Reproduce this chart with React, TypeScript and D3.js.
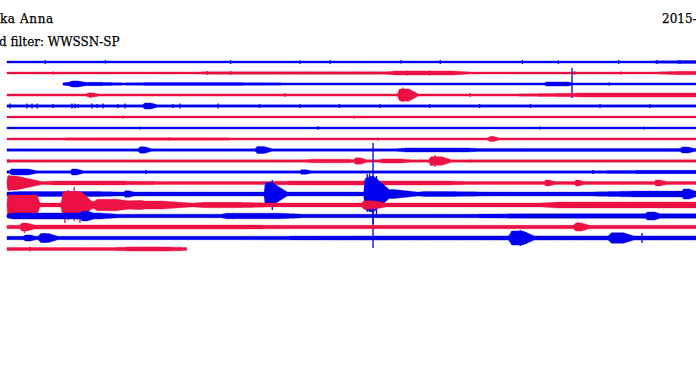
import React, { useEffect } from "react";
import * as d3 from "d3";

const W = 696;
const H = 392;

// ---- text ----
const titleLeft = "ka Anna";
const titleDate = "2015-";
const filterLabel = "d filter: WWSSN-SP";

// ---- helicorder rows (minutes within each line, amplitude in arbitrary counts) ----
const traceColors = ["#0000ee", "#ee1144"];
const rowStart = [0, 0, 4.83, 0, 0, 0, 0, 0, 0, 0, 0, 0, 0, 0, 0, 0, 0, 0];
const rowEnd = [60, 60, 60, 60, 60, 60, 60, 60, 60, 60, 60, 60, 60, 60, 60, 60, 60, 15.54];
const rowBase = [1.0, 1.0, 1.1, 1.1, 1.2, 0.9, 0.9, 1.0, 1.2, 1.15, 1.2, 1.5, 1.9, 1.9, 1.8, 1.7, 1.7, 1.5];

// events: [onset, reachPeak, peakEnd, end, amplitude]
const rowEvents: number[][][] = [
  [[55, 58, 60, 60, 0.4]],
  [[32.5, 33.5, 38.5, 40, 1.0], [16, 18, 32, 33, 0.3], [56, 58, 60, 60, 0.7]],
  [[4.83, 5.2, 8, 10, 0.6], [5.3, 5.7, 6.1, 6.8, 1.4], [10, 12, 20, 24, 0.3], [46.4, 46.6, 48.4, 48.8, 1.0]],
  [[6.8, 7.1, 7.4, 7.9, 1.0], [33.7, 33.9, 34.7, 35.5, 5], [44, 50, 60, 60, 0.9]],
  [[11.7, 11.9, 12.4, 13.0, 1.8]],
  [],
  [],
  [[41.5, 41.7, 42.0, 42.5, 1.6], [3, 8, 18, 20, 0.3]],
  [[11.3, 11.5, 11.9, 12.5, 2.0], [21.4, 21.6, 22.2, 22.9, 2.3], [33.5, 34.5, 39, 40.5, 0.8], [39, 40, 60, 60, 0.4], [58.1, 58.3, 58.8, 59.3, 1.4]],
  [[25.5, 26.5, 29.5, 30, 0.7], [29.9, 30.1, 30.5, 31.1, 2.0], [32, 32.5, 34, 35, 0.9], [36.4, 36.6, 37.5, 38.4, 3.2]],
  [[0.2, 0.4, 1.8, 2.6, 1.9], [5.5, 5.6, 6.0, 6.6, 1.8], [25.3, 25.4, 25.8, 26.3, 1.1], [50, 55, 60, 60, 0.5]],
  [[0, 0.05, 0.8, 3, 5.5], [3.2, 4, 10, 14, 0.4], [22, 25, 38, 40, 0.5], [46.4, 46.5, 46.8, 47.3, 1.4], [49.0, 49.1, 49.4, 49.8, 1.4], [55.9, 56.0, 56.4, 56.9, 1.4]],
  [[0, 1, 8, 10, 0.5], [10.1, 10.2, 10.5, 11.0, 1.4], [22.2, 22.35, 22.9, 24.2, 9.5], [30.8, 30.95, 31.6, 33.0, 14], [31, 31.6, 33.5, 35.5, 2.5], [35.5, 36, 38, 42, 0.6], [50, 54, 60, 60, 1.0], [58.3, 58.4, 58.9, 59.4, 2.2]],
  [[0, 0.05, 2.6, 2.85, 8], [4.65, 4.9, 6.4, 7.5, 11.5], [7.3, 7.8, 9.5, 12, 3.8], [10.5, 11.5, 13.5, 16, 2.0], [16, 17, 20, 23, 0.8], [30.6, 30.8, 31.6, 32.8, 2.3], [46, 47.5, 60, 60, 1.0]],
  [[0, 0.5, 8, 9.5, 1.2], [6.3, 6.5, 6.9, 7.5, 2.0], [18.5, 19, 23.5, 25.5, 1.0], [40, 45, 60, 60, 0.5], [55.1, 55.3, 55.9, 56.4, 1.7]],
  [[1.1, 1.3, 1.7, 2.4, 2.0], [48.9, 49.1, 49.6, 50.3, 2.3], [0, 2, 20, 25, 0.3]],
  [[1.4, 1.6, 2.0, 2.5, 1.4], [2.7, 2.9, 3.6, 4.4, 2.8], [43.3, 43.6, 44.5, 45.5, 5.0], [51.9, 52.2, 53.2, 54.1, 3.2], [20, 30, 60, 60, 0.4]],
  [[9, 11, 13.5, 15.5, 0.6]],
];

// spikes: [minute, up, down]
const rowSpikes: number[][][] = [
  [[3.3, 2, 2], [8.5, 2, 1.5], [19.3, 2, 2], [25.3, 1.5, 2], [27.9, 2, 2], [34, 2, 1.5], [37.4, 2, 2], [44.5, 2, 2], [47.6, 1.5, 2], [52.8, 2, 2], [56.1, 2, 2], [58.1, 2, 2]],
  [[4, 1.5, 1.5], [17.3, 2, 2], [19.3, 2, 2], [34.5, 2.5, 2.5], [36.5, 2.5, 2.5], [49, 2, 2], [53, 1.5, 1.5]],
  [[5.6, 3, 3], [6.0, 3, 3], [48.78, 16, 14], [52, 1.5, 1.5]],
  [[7.2, 2.5, 3], [33.9, 6, 5], [34.2, 7.5, 7], [34.6, 6, 6.5], [24, 2, 2], [40, 2, 2]],
  [[0.26, 2.5, 2.5], [1.73, 2.5, 2.5], [2.16, 2.5, 2.5], [2.59, 2.5, 2.5], [3.97, 2, 2], [5.61, 2.5, 2.5], [5.87, 2.5, 2.5], [6.13, 2, 2], [7.34, 2.5, 2.5], [7.77, 2, 2], [8.29, 2.5, 2.5], [9.58, 2, 2], [10.19, 2.5, 2.5], [12.1, 3, 3], [14.33, 2, 2], [14.94, 2.5, 2.5], [18.22, 2.5, 2.5], [21.8, 2, 2], [25.3, 2, 2], [28.7, 2, 2], [32.2, 2, 2], [36.5, 2, 2], [40.8, 2, 2], [45.2, 2, 2], [51.2, 2, 2], [55.5, 2, 2]],
  [[10, 1.5, 1.5], [30, 1.5, 1.5]],
  [[26.85, 2, 2], [11.5, 1.5, 1.5], [46, 1.5, 1.5], [55, 1.5, 1.5]],
  [[41.87, 3, 1.5], [14, 1.5, 1.5], [32, 1.5, 1.5]],
  [[11.74, 3, 3], [21.8, 3.5, 3.5], [22.1, 3, 3]],
  [[30.2, 3, 3], [36.6, 4, 5], [36.95, 6, 6], [37.3, 4, 4], [37.7, 3.5, 3.5], [0.1, 2, 2], [40, 1.5, 1.5]],
  [[0.6, 3, 3], [1.5, 3, 3], [5.8, 3, 3], [12, 2, 2], [50.6, 2, 2]],
  [[0.2, 8, 8], [0.5, 7, 7], [1, 6, 6], [1.6, 5, 5]],
  [[22.3, 9, 11], [22.5, 12, 13], [22.7, 11, 13], [22.9, 14, 16], [23.1, 9, 10], [23.4, 6, 7], [30.9, 14, 12], [31.1, 20, 18], [31.3, 20, 18], [31.6, 51, 54], [31.9, 18, 22], [32.2, 12, 10], [32.6, 8, 8]],
  [[0.3, 10, 10], [1.0, 10, 10], [1.7, 9, 9], [2.3, 10, 9], [4.8, 12, 14], [5.0, 6, 18], [5.3, 15, 15], [5.8, 18, 16], [6.1, 14, 15], [6.3, 12, 18], [6.8, 10, 10], [0.7, 4, 4]],
  [[6.7, 4, 4], [19.5, 3, 3], [31.6, 8, 8]],
  [[1.5, 3, 6], [49.3, 5, 4]],
  [[3.2, 5, 5], [43.6, 7, 7], [44.3, 8, 8], [44.8, 6, 6], [52.3, 5, 5], [52.9, 5, 5], [53.4, 4, 4], [54.82, 5, 5]],
  [[2, 2.5, 2.5]],
];

function trap(m: number, e: number[]): number {
  const [t0, t1, t2, t3, a] = e;
  if (m < t0 || m > t3) return 0;
  if (m < t1) return t1 > t0 ? (a * (m - t0)) / (t1 - t0) : a;
  if (m <= t2) return a;
  return t3 > t2 ? (a * (t3 - m)) / (t3 - t2) : a;
}

export default function App() {
  useEffect(() => {
    document.body.style.margin = "0";
  }, []);

  const x = d3.scaleLinear().domain([0, 60]).range([7, 702]);
  const y = d3.scaleLinear().domain([0, 17]).range([62, 249]);
  const amp = d3.scaleLinear().domain([0, 10]).range([0, 10]);

  const rows = rowBase.map((base, i) => {
    const start = rowStart[i];
    const end = rowEnd[i];
    const ms = d3.range(start, end + 0.0001, 0.04);
    const env = ms.map((m) => {
      let v = base;
      for (const e of rowEvents[i]) v += trap(m, e);
      return [m, v] as [number, number];
    });
    const yc = y(i);
    const area = d3
      .area<[number, number]>()
      .x((d) => x(d[0]))
      .y0((d) => yc - amp(d[1]))
      .y1((d) => yc + amp(d[1]))
      .curve(d3.curveLinear);
    return { i, yc, path: area(env) || "", color: traceColors[i % 2] };
  });

  return (
    <svg
      width={W}
      height={H}
      style={{ position: "absolute", left: 0, top: 0, background: "#fff" }}
    >
      <rect x={0} y={0} width={W} height={H} fill="#fff" />
      <g fontFamily="DejaVu Serif" fontSize={12} fill="#000" stroke="#000" strokeWidth={0.25}>
        <text x={0} y={23} letterSpacing={0.6}>{titleLeft}</text>
        <text x={-1} y={46}>{filterLabel}</text>
        <text x={662} y={23}>{titleDate}</text>
      </g>
      {rows.map((r) => (
        <g key={r.i}>
          <path d={r.path} fill={r.color} stroke={r.color} strokeWidth={0.4} />
          {rowSpikes[r.i].map((s, k) => (
            <line
              key={k}
              x1={x(s[0])}
              x2={x(s[0])}
              y1={r.yc - amp(s[1])}
              y2={r.yc + amp(s[2])}
              stroke={r.color}
              strokeWidth={1.3}
            />
          ))}
        </g>
      ))}
    </svg>
  );
}
